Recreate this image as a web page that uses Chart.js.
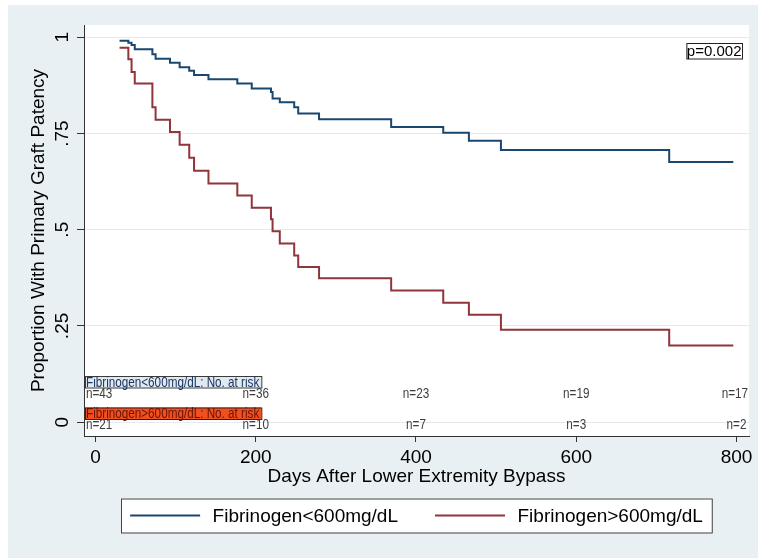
<!DOCTYPE html>
<html>
<head>
<meta charset="utf-8">
<script src="https://cdn.jsdelivr.net/npm/chart.js@4.4.1/dist/chart.umd.min.js"></script>
<style>
  html, body { margin: 0; padding: 0; background: #fff; }
  canvas { display: block; }
</style>
</head>
<body>
<canvas id="kmChart" width="758" height="558"></canvas>
<script>
// days where the survival curves step down (last one = end of follow-up)
const days = [30, 41, 45, 49, 71, 75, 93, 105, 117, 123, 141, 177, 195, 219, 221, 230, 248, 253, 279, 369, 434, 466, 506, 716, 796];
const lowFib = [0.991, 0.986, 0.980, 0.969, 0.956, 0.944, 0.934, 0.922, 0.913, 0.902, 0.891, 0.880, 0.867, 0.858, 0.841, 0.831, 0.818, 0.802, 0.787, 0.767, 0.752, 0.731, 0.707, 0.676, 0.676];
const highFib = [0.973, 0.943, 0.910, 0.880, 0.818, 0.786, 0.754, 0.721, 0.687, 0.653, 0.620, 0.589, 0.557, 0.527, 0.496, 0.464, 0.433, 0.403, 0.374, 0.342, 0.310, 0.279, 0.240, 0.199, 0.199];
const seriesNames = ["Fibrinogen<600mg/dL", "Fibrinogen>600mg/dL"];

const xTicks = [0, 200, 400, 600, 800];
const yTicks = [0, 0.25, 0.5, 0.75, 1];
const yTickLabels = ["0", ".25", ".5", ".75", "1"];

// numbers at risk
const riskDays = [0, 200, 400, 600, 800];
const riskLow = [43, 36, 23, 19, 17];
const riskHigh = [21, 10, 7, 3, 2];
const riskTitles = ["Fibrinogen<600mg/dL: No. at risk", "Fibrinogen>600mg/dL: No. at risk"];
const pValue = "p=0.002";

const FONT = "'Liberation Sans', Arial, sans-serif";
const BLUE = "#1a476f";
const RED = "#90353b";
const REGION = "#e9f0f3";
const NARROW = 0.78;

function toPoints(values) {
    return days.map((d, i) => ({ x: d, y: values[i] }));
}

// graph region + white plot region
const backdrop = {
    id: 'backdrop',
    beforeDraw(chart) {
        const { ctx, chartArea: a } = chart;
        ctx.save();
        ctx.fillStyle = "#fff";
        ctx.fillRect(0, 0, chart.width, chart.height);
        ctx.fillStyle = REGION;
        ctx.fillRect(8, 5, chart.width - 8, chart.height - 5);
        ctx.fillStyle = "#fff";
        ctx.fillRect(a.left, a.top, a.right - a.left, a.bottom - a.top);
        ctx.restore();
    }
};

// narrow text like Stata's small labels
function narrowText(ctx, text, x, y) {
    ctx.save();
    ctx.translate(x, y);
    ctx.scale(NARROW, 1);
    ctx.textAlign = 'left';
    ctx.fillText(text, 0, 0);
    ctx.restore();
}

const atRisk = {
    id: 'atRisk',
    afterDatasetsDraw(chart) {
        const { ctx, chartArea: a, scales: { x } } = chart;
        const rows = [
            { title: riskTitles[0], counts: riskLow, boxY: a.bottom - 60, rowY: a.bottom - 42,
              fill: "#e2eaf1", border: "#3a3a3a", ink: "#1a3560" },
            { title: riskTitles[1], counts: riskHigh, boxY: a.bottom - 28.5, rowY: a.bottom - 11,
              fill: "#f0501e", border: "#4a1a10", ink: "#6a1208" }
        ];
        ctx.save();
        ctx.font = "15px " + FONT;
        ctx.textBaseline = 'middle';
        rows.forEach(r => {
            const w = ctx.measureText(r.title).width * NARROW + 3;
            ctx.fillStyle = r.fill;
            ctx.fillRect(a.left + 1, r.boxY, w, 11.5);
            ctx.strokeStyle = r.border;
            ctx.lineWidth = 1;
            ctx.strokeRect(a.left + 1.5, r.boxY + 0.5, w, 11.5);
            ctx.fillStyle = r.ink;
            narrowText(ctx, r.title, a.left + 2, r.boxY + 6.5);
            ctx.fillStyle = "#3c3c3c";
            r.counts.forEach((n, i) => {
                const label = "n=" + n;
                const w2 = ctx.measureText(label).width * NARROW;
                let px = x.getPixelForValue(riskDays[i]) - w2 / 2;
                px = Math.max(px, a.left + 2);
                px = Math.min(px, a.right - w2 - 1);
                narrowText(ctx, label, px, r.rowY);
            });
        });
        ctx.restore();
    }
};

const pBox = {
    id: 'pBox',
    afterDatasetsDraw(chart) {
        const { ctx, chartArea: a } = chart;
        ctx.save();
        ctx.font = "15px " + FONT;
        const w = ctx.measureText(pValue).width + 1;
        const right = a.right - 6.5, top = a.top + 18.5;
        ctx.fillStyle = "#fff";
        ctx.fillRect(right - w, top, w, 15.5);
        ctx.strokeStyle = "#222";
        ctx.lineWidth = 1;
        ctx.strokeRect(right - w, top, w, 15.5);
        ctx.fillStyle = "#000";
        ctx.textBaseline = 'middle';
        ctx.fillText(pValue, right - w, top + 8.5);
        ctx.restore();
    }
};

// boxed legend under the axis title
const boxLegend = {
    id: 'boxLegend',
    afterDraw(chart) {
        const { ctx, chartArea: a } = chart;
        const sets = chart.data.datasets;
        const lineLen = 70, gap = 12.5, between = 37, pad = 9;
        ctx.save();
        ctx.font = "19px " + FONT;
        const widths = sets.map(s => lineLen + gap + ctx.measureText(s.label).width);
        const total = pad * 2 + widths[0] + between + widths[1];
        const left = (a.left + a.right) / 2 - total / 2;
        const top = a.bottom + 62.5, h = 34;
        ctx.fillStyle = "#fff";
        ctx.fillRect(left, top, total, h);
        ctx.strokeStyle = "#444";
        ctx.lineWidth = 1;
        ctx.strokeRect(Math.round(left) + 0.5, top + 0.5, total, h);
        let cx = left + pad;
        const cy = top + h / 2;
        sets.forEach((s, i) => {
            ctx.strokeStyle = s.borderColor;
            ctx.lineWidth = 2;
            ctx.beginPath();
            ctx.moveTo(cx, cy);
            ctx.lineTo(cx + lineLen, cy);
            ctx.stroke();
            ctx.fillStyle = "#000";
            ctx.textBaseline = 'middle';
            ctx.fillText(s.label, cx + lineLen + gap, cy + 1);
            cx += widths[i] + between;
        });
        ctx.restore();
    }
};

new Chart(document.getElementById("kmChart"), {
    type: 'line',
    data: {
        datasets: [{
            label: seriesNames[0],
            data: toPoints(lowFib),
            borderColor: BLUE,
            backgroundColor: BLUE,
            borderWidth: 2,
            stepped: 'before',
            pointRadius: 0,
            fill: false
        }, {
            label: seriesNames[1],
            data: toPoints(highFib),
            borderColor: RED,
            backgroundColor: RED,
            borderWidth: 2,
            stepped: 'before',
            pointRadius: 0,
            fill: false
        }]
    },
    options: {
        responsive: false,
        animation: false,
        devicePixelRatio: 1,
        layout: { padding: { left: 0, top: 25, right: 9, bottom: 70 } },
        font: { family: FONT, size: 19 },
        plugins: {
            legend: { display: false },
            tooltip: { enabled: false }
        },
        scales: {
            x: {
                type: 'linear',
                min: -14.35,
                max: 815.6,
                afterBuildTicks: s => { s.ticks = xTicks.map(v => ({ value: v })); },
                afterFit: s => { s.height = 52; },
                grid: { drawOnChartArea: false, tickLength: 6, tickColor: "#333" },
                border: { color: "#333", width: 1 },
                ticks: { color: "#000", padding: 4, maxRotation: 0, font: { family: FONT, size: 19 } },
                title: {
                    display: true,
                    text: "Days After Lower Extremity Bypass",
                    color: "#000",
                    font: { family: FONT, size: 19 },
                    padding: { top: 0, bottom: 0 }
                }
            },
            y: {
                type: 'linear',
                min: -0.036,
                max: 1.032,
                afterBuildTicks: s => { s.ticks = yTicks.map(v => ({ value: v })); },
                afterFit: s => { s.width = 84; },
                grid: { color: "#e2eaef", lineWidth: 1, tickLength: 7, tickColor: "#333" },
                border: { color: "#333", width: 1 },
                ticks: {
                    color: "#000",
                    padding: 1,
                    crossAlign: 'center',
                    minRotation: 90,
                    maxRotation: 90,
                    font: { family: FONT, size: 19 },
                    callback: v => yTickLabels[yTicks.indexOf(v)]
                },
                title: {
                    display: true,
                    text: "Proportion With Primary Graft Patency",
                    color: "#000",
                    font: { family: FONT, size: 19 },
                    padding: { top: 27.6, bottom: 0 }
                }
            }
        }
    },
    plugins: [backdrop, atRisk, pBox, boxLegend]
});
</script>
</body>
</html>
